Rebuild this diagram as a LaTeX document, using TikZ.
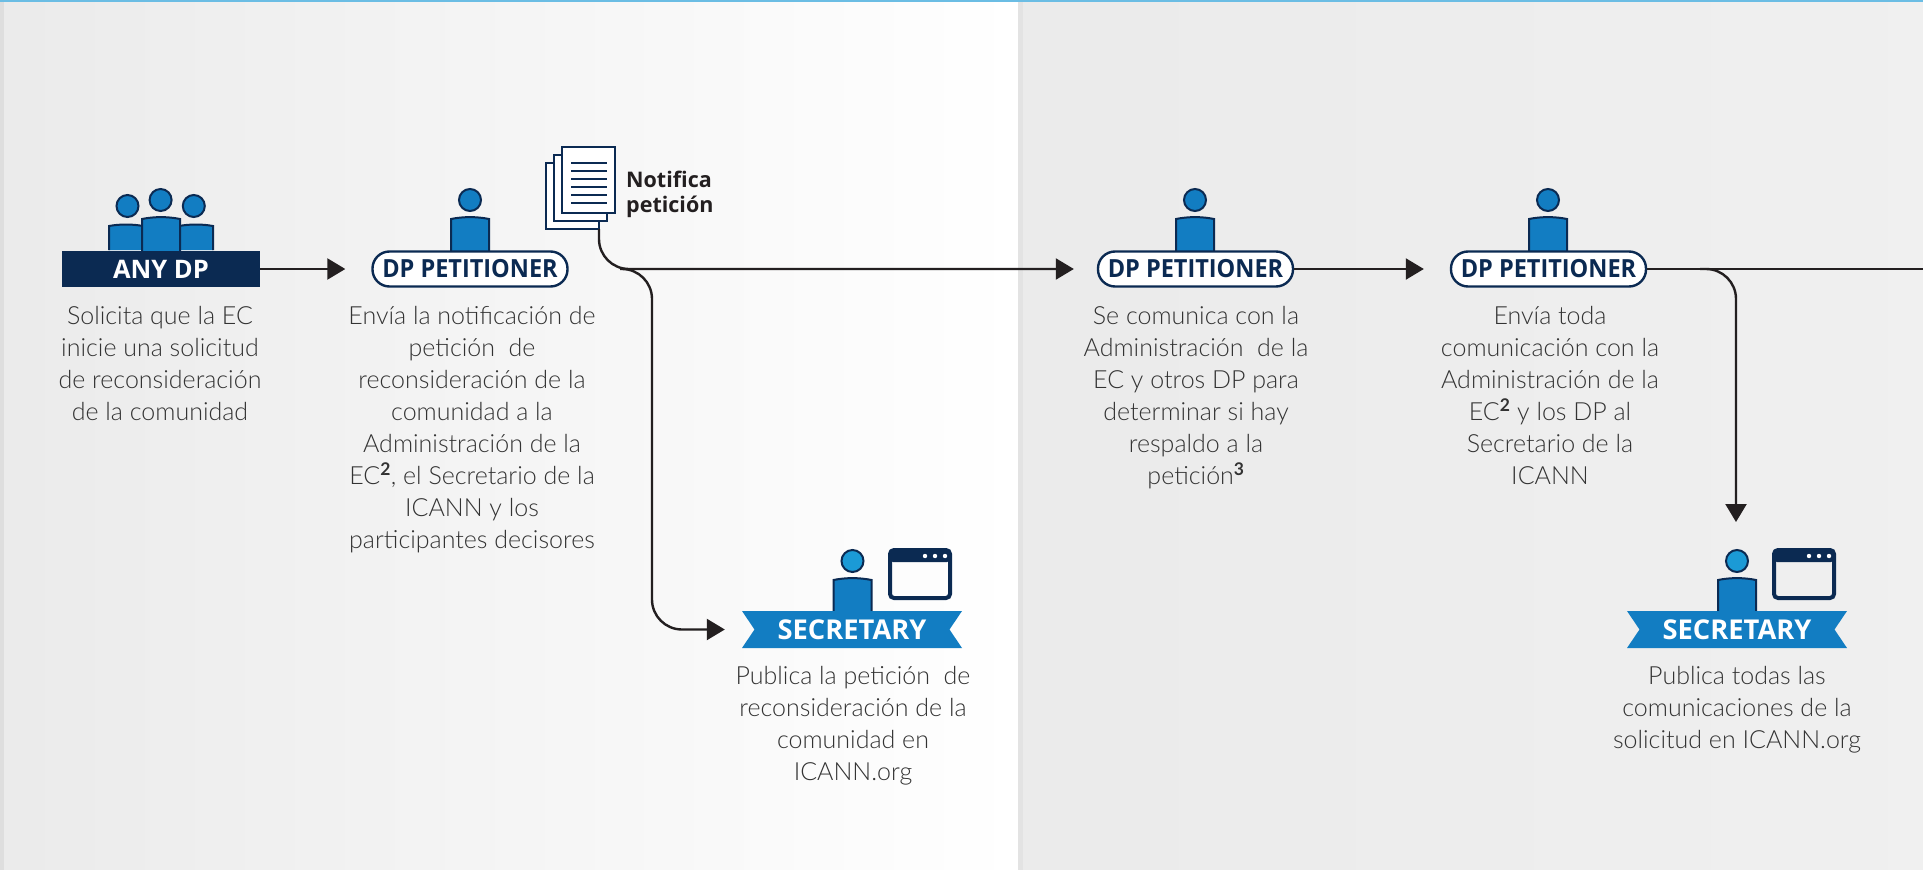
\documentclass[tikz,border=0pt]{standalone}
\usepackage{fontspec}
\setmainfont{Lato}[UprightFont=* Light,BoldFont=* Bold]
\newfontfamily\labelfont{Open Sans}[UprightFont=* Bold]
\newfontfamily\pillfont{Open Sans}[UprightFont=* Bold,FakeStretch=0.94]
\usetikzlibrary{arrows.meta}
\definecolor{navy}{HTML}{0B2A52}
\definecolor{midblue}{HTML}{127DC2}
\definecolor{skyblue}{HTML}{1B9AD6}
\definecolor{linegray}{HTML}{231F20}
\tikzset{
  head/.style={circle, draw=navy, line width=2pt, fill=midblue, minimum size=22pt, inner sep=0pt},
  body/.style={draw=navy, line width=2pt, fill=midblue},
  flow/.style={draw=linegray, line width=2.4pt, -{Triangle[length=18pt,width=21pt]}},
  plainflow/.style={draw=linegray, line width=2.4pt},
  pill/.style={draw=navy, line width=2.4pt, fill=white, rounded corners=17pt, text=navy, font=\pillfont\fontsize{25}{28}\selectfont, minimum width=195pt, minimum height=35pt, inner sep=0pt},
  bar/.style={fill=navy, text=white, font=\labelfont\fontsize{25.5}{28}\selectfont, minimum width=198pt, minimum height=36pt, inner sep=0pt},
  ribbon/.style={text=white, font=\labelfont\fontsize{27.3}{28}\selectfont, minimum width=220pt, minimum height=37pt, inner sep=0pt},
  sheet/.style={draw=navy, line width=2.2pt, fill=white, minimum width=53pt, minimum height=66pt, inner sep=0pt},
  desc/.style={anchor=north, align=center, inner sep=0pt, text=black!80, font=\fontsize{25}{32}\selectfont},
  person/.pic={
    \draw[body, pic actions] (-19,31) -- (-19,-1) .. controls (-7,-3.5) and (7,-3.5) .. (19,-1) -- (19,31);
  }
}
\newcommand{\window}[2]{
  \draw[draw=navy, line width=4pt, rounded corners=4pt] (#1,#2) rectangle ++(60,48);
  \fill[navy, rounded corners=3pt] (#1,#2) rectangle ++(60,12);
  \foreach \dx in {37,47,57} \fill[white] (#1+\dx-2,#2+6) circle (2.2);
}
\newcommand{\banner}[2]{
  \fill[midblue] (#1,#2) -- ++(220,0) -- ++(-12.5,18.5) -- ++(12.5,18.5) -- ++(-220,0) -- ++(12.5,-18.5) -- cycle;
}

\begin{document}
\begin{tikzpicture}[x=1pt, y=-1pt]
  \useasboundingbox (0,0) rectangle (1923,870);
  % panes
  \shade[left color=black!8, right color=white] (0,0) rectangle (1018,870);
  \fill[black!13] (0,0) rectangle (4,870);
  \shade[left color=black!8, right color=black!6] (1018,0) rectangle (1923,870);
  \fill[black!11] (1018,0) rectangle (1023,870);
  \fill[skyblue!65] (0,0) rectangle (1923,1.5);

  % any dp
  \node[head] at (127.5,206) (any_head_a) {};
  \node[head] at (193.8,206) (any_head_c) {};
  \node[head] at (160.6,200) (any_head_b) {};
  \draw[body] (109,250) -- (109,226) .. controls (120,224) and (132,224) .. (143,226) -- (143,250);
  \draw[body] (179,250) -- (179,226) .. controls (190,224) and (202,224) .. (213,226) -- (213,250);
  \pic at (161,220) {person};
  \node[bar] at (161,269) (any_dp) {ANY DP};
  \node[desc] at (160,306) (any_text) {Solicita que la EC\\inicie una solicitud\\de reconsideración\\de la comunidad};

  % petitioner one
  \node[head] at (470,200) (pet_head_a) {};
  \pic at (470,220) {person};
  \node[pill] at (470,269) (pet_a) {DP PETITIONER};
  \node[desc] at (472,306) (pet_text_a) {Envía la notificación de\\petición\ \ de\\reconsideración de la\\comunidad a la\\Administración de la\\EC\textsuperscript{\textbf{2}}, el Secretario de la\\ICANN y los\\participantes decisores};

  % notice sheets
  \node[sheet] at (572.5,196) (sheet_c) {};
  \node[sheet] at (580.5,188) (sheet_b) {};
  \node[sheet] at (588.5,180) (sheet_a) {};
  \foreach \ly in {163,171,179,187,195,203}
    \draw[navy, line width=1.8pt] (571,\ly) -- (607,\ly);
  \node[anchor=north west, align=left, inner sep=0pt, text=linegray, font=\labelfont\fontsize{21.5}{24.5}\selectfont] at (626,171) (notice_text) {Notifica\\petición};

  % secretary one
  \node[head, fill=skyblue] at (852.5,561) (sec_head_a) {};
  \pic[fill=skyblue] at (852.5,581) {person};
  \window{890}{550}
  \banner{742}{611}
  \node[ribbon] at (852,629.5) (sec_a) {SECRETARY};
  \node[desc] at (853,666) (sec_text_a) {Publica la petición\ \ de\\reconsideración de la\\comunidad en\\ICANN.org};

  % petitioner two
  \node[head] at (1195,200) (pet_head_b) {};
  \pic at (1195,220) {person};
  \node[pill] at (1195.5,269) (pet_b) {DP PETITIONER};
  \node[desc] at (1196,306) (pet_text_b) {Se comunica con la\\Administración\ \ de la\\EC y otros DP para\\determinar si hay\\respaldo a la\\petición\textsuperscript{\textbf{3}}};

  % petitioner three
  \node[head] at (1548,200) (pet_head_c) {};
  \pic at (1548,220) {person};
  \node[pill] at (1548.5,269) (pet_c) {DP PETITIONER};
  \node[desc] at (1550,306) (pet_text_c) {Envía toda\\comunicación con la\\Administración de la\\EC\textsuperscript{\textbf{2}} y los DP al\\Secretario de la\\ICANN};

  % secretary two
  \node[head, fill=skyblue] at (1737,561) (sec_head_b) {};
  \pic[fill=skyblue] at (1737,581) {person};
  \window{1774}{550}
  \banner{1627}{611}
  \node[ribbon] at (1737,629.5) (sec_b) {SECRETARY};
  \node[desc] at (1737,666) (sec_text_b) {Publica todas las\\comunicaciones de la\\solicitud en ICANN.org};

  % connectors
  \coordinate (fork_a) at (620,269);
  \coordinate (turn_a) at (652,269);
  \coordinate (turn_b) at (652,629.5);
  \coordinate (sheet_foot) at (599,229);
  \coordinate (turn_c) at (599,269);
  \coordinate (fork_b) at (1700,269);
  \coordinate (turn_d) at (1736,269);
  \coordinate (right_end) at (1923,269);
  \path[flow, shorten >=26pt] (any_dp) -- (pet_a);
  \path[flow, shorten >=23pt, rounded corners=30pt] (sheet_foot) -- (turn_c) -- (pet_b.west);
  \path[flow, shorten >=17pt, rounded corners=30pt] (fork_a) -- (turn_a) -- (turn_b) -- (sec_a.west);
  \path[flow, shorten >=26pt] (pet_b) -- (pet_c);
  \path[plainflow] (pet_c) -- (right_end);
  \path[flow, shorten >=27pt, rounded corners=30pt] (fork_b) -- (turn_d) -- (sec_head_b.north -| turn_d);
\end{tikzpicture}
\end{document}
